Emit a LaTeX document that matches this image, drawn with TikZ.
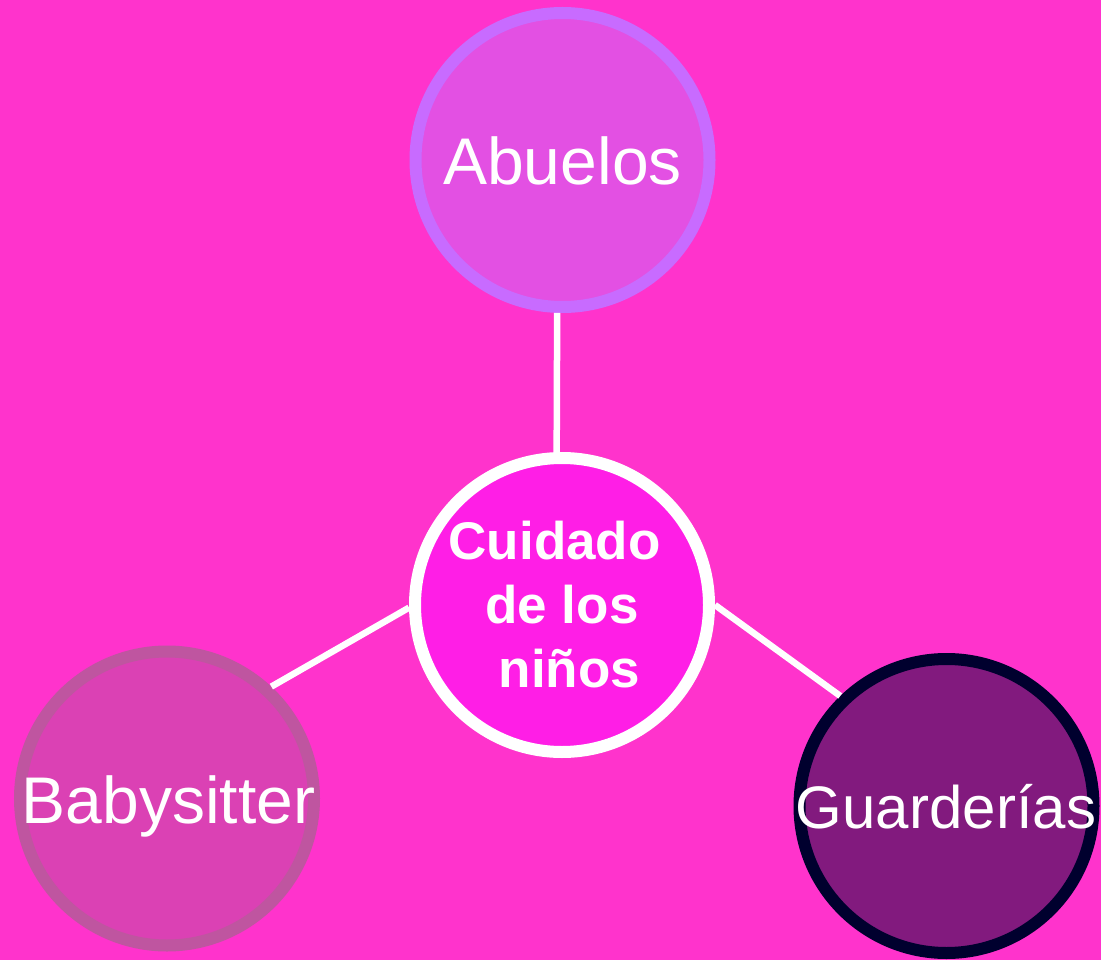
\documentclass[tikz,border=0pt]{standalone}
\usepackage{fontspec}
\setmainfont{Liberation Sans}
\definecolor{bg}{HTML}{FF33CC}
\definecolor{abfill}{HTML}{E350E3}
\definecolor{abdraw}{HTML}{C86BFF}
\definecolor{cfill}{HTML}{FF1EE6}
\definecolor{bsfill}{HTML}{DB41B4}
\definecolor{bsdraw}{HTML}{BF55A0}
\definecolor{gufill}{HTML}{821A7E}
\definecolor{gudraw}{HTML}{00002E}
\tikzset{
  bubble/.style={circle, inner sep=0pt, minimum size=294pt, line width=12pt},
  link/.style={draw=white, line width=6.5pt},
  lbl/.style={text=white, inner sep=0pt, anchor=base, font=\fontsize{66}{79}\selectfont},
}
\begin{document}
\begin{tikzpicture}[x=1pt,y=-1pt]
\fill[bg] (0,0) rectangle (1101,960);
\useasboundingbox (0,0) rectangle (1101,960);
\node[bubble, fill=abfill, draw=abdraw] (ab) at (562.5,160) {};
\node[bubble, fill=cfill, draw=white] (c) at (562,605) {};
\node[bubble, fill=bsfill, draw=bsdraw] (bs) at (167,798.5) {};
\node[bubble, fill=gufill, draw=gudraw] (gu) at (946.5,806) {};
\draw[link] (ab.268) -- (c.92);
\draw[link] (bs.47) -- (c.181);
\draw[link] (c.0) -- (gu.134);
\node[lbl] (abt) at (562.5,185) {Abuelos};
\node[lbl] (bst) at (168.5,823) {Babysitter};
\node[lbl, font=\fontsize{60}{72}\selectfont] (gut) at (946,828) {Guarderías};
\node[text=white, inner sep=0pt, align=center, font=\bfseries\fontsize{53}{64}\selectfont] (ct) at (562,605) {Cuidado\kern14.7pt\\de los\\\kern14.7pt niños};
\end{tikzpicture}
\end{document}
